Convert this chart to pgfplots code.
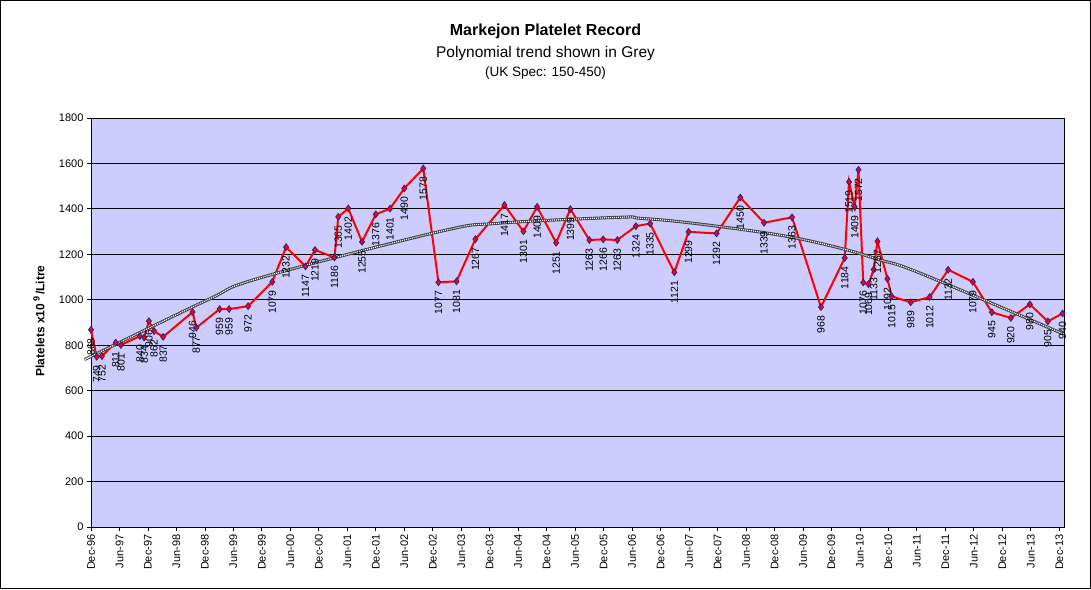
\documentclass[border=0pt]{standalone}
\usepackage{fontspec}
\setmainfont{Liberation Sans}
\usepackage{pgfplots}
\pgfplotsset{compat=1.18}
\usepackage{pgfplotstable}
\definecolor{plotbg}{RGB}{204,204,255}
\definecolor{mkedge}{RGB}{30,30,150}

\pgfplotstableread{
x y lab
0 868 868
1.2 749 749
2.3 752 752
5.2 811 811
6.3 801 801
10.3 840 840
11.2 834 834
12.2 906 906
13.3 862 862
15.2 837 837
21.4 946 946
22.2 877 877
27.1 959 959
29.1 959 959
33.1 972 972
38.2 1079 1079
41.1 1232 1232
45.2 1147 1147
47.2 1219 1219
51.3 1186 1186
52.1 1365 1365
54.2 1402 1402
57.1 1255 1255
60.0 1376 1376
63.0 1401 1401
66.0 1490 1490
70.0 1578 1578
73.2 1077 1077
77.0 1081 1081
81.0 1267 1267
87.1 1417 1417
91.1 1301 1301
94.0 1409 1409
98.0 1251 1251
101.0 1399 1399
105.0 1263 1263
107.9 1266 1266
110.9 1263 1263
114.8 1324 1324
117.8 1335 1335
122.9 1121 1121
125.9 1299 1299
131.8 1292 1292
136.8 1450 1450
141.8 1339 1339
147.7 1363 1363
153.8 968 968
158.8 1184 1184
159.7 1519 1519
160.9 1409 1409
161.7 1572 1572
162.7 1076 1076
163.8 1069 1069
164.9 1133 1133
165.7 1257 1257
167.8 1092 1092
168.7 1015 1015
172.7 989 989
176.7 1012 1012
180.6 1132 1132
185.8 1079 1079
189.8 945 945
193.8 920 920
197.8 980 980
201.6 905 905
204.7 940 940
}\platelets

\pgfplotstableread{
x y
0 751
0.6 757
24.5 999
35.4 1095
73.4 1300
86 1337
111.3 1363
115.5 1359
126 1339
145 1285
157.7 1228
166.1 1176
174.6 1118
204.7 851
}\trend

\begin{document}
\begin{tikzpicture}
\useasboundingbox (0,0) rectangle (1091pt,589pt);
\draw[black, line width=1pt] (0.5pt,0.5pt) rectangle (1090.5pt,588.5pt);
\node[font=\bfseries\fontsize{16}{18}\selectfont] at (545.5pt,557.5pt) {Markejon Platelet Record};
\node[font=\fontsize{15.5}{18}\selectfont] at (545.5pt,536pt) {Polynomial trend shown in Grey};
\node[font=\fontsize{13.5}{16}\selectfont] at (545.5pt,515.5pt) {(UK Spec: 150-450)};
\node[rotate=90, font=\bfseries\fontsize{12}{14}\selectfont] at (39pt,268pt) {Platelets x10\,\raisebox{0.75ex}{\fontsize{9}{10}\selectfont 9}\,/Litre};
\begin{axis}[
  at={(91pt,62pt)}, anchor=south west,
  scale only axis, width=973pt, height=409pt,
  xmin=0, xmax=205, ymin=0, ymax=1800,
  ytick={0,200,...,1800},
  xtick={0,6,...,204},
  xticklabels={Dec-96,Jun-97,Dec-97,Jun-98,Dec-98,Jun-99,Dec-99,Jun-00,Dec-00,Jun-01,Dec-01,Jun-02,Dec-02,Jun-03,Dec-03,Jun-04,Dec-04,Jun-05,Dec-05,Jun-06,Dec-06,Jun-07,Dec-07,Jun-08,Dec-08,Jun-09,Dec-09,Jun-10,Dec-10,Jun-11,Dec-11,Jun-12,Dec-12,Jun-13,Dec-13},
  xticklabel style={rotate=90, anchor=east, font=\fontsize{11}{12}\selectfont},
  yticklabel style={font=\fontsize{11}{12}\selectfont},
  /pgf/number format/assume math mode=true,
  /pgf/number format/1000 sep={},
  tick align=outside, major tick length=4pt,
  xtick pos=bottom, ytick pos=left,
  ymajorgrids, grid style={black, line width=0.9pt},
  axis line style={black, line width=0.9pt},
  tick style={black, line width=0.8pt},
  axis background/.style={fill=plotbg},
  clip=false,
]
\addplot[red, line width=2pt, mark=diamond*, mark size=3.4pt,
  mark options={fill=red, draw=mkedge, line width=0.7pt},
  nodes near coords, point meta=explicit symbolic,
  every node near coord/.append style={rotate=90, anchor=east, inner sep=0pt, outer sep=8.5pt, font=\fontsize{10.5}{12}\selectfont, text=black}]
  table[x=x, y=y, meta=lab] {\platelets};
\addplot[black!75, line width=3pt, smooth, tension=0.6] table[x=x,y=y] {\trend};
\addplot[white, line width=1.2pt, dash pattern=on 1pt off 1pt, smooth, tension=0.6] table[x=x,y=y] {\trend};
\end{axis}
\end{tikzpicture}
\end{document}
